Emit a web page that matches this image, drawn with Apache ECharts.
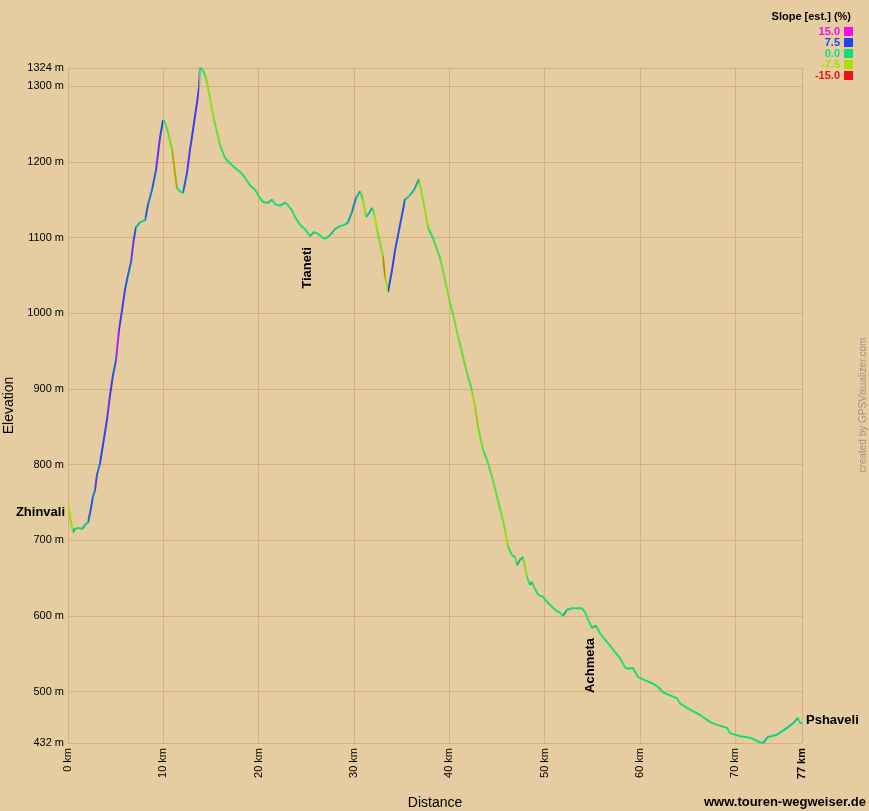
<!DOCTYPE html>
<html><head><meta charset="utf-8">
<script src="https://cdn.jsdelivr.net/npm/echarts@6/dist/echarts.min.js"></script>
<style>html,body{margin:0;padding:0;background:#e5cda1}#c{width:869px;height:811px}</style>
</head><body><div id="c"></div>
<script>
const distanceKm = [0,0.21,0.52,0.73,1.05,1.47,1.78,2.10,2.31,2.62,
2.83,3.04,3.36,3.67,4.09,4.41,4.72,5.04,5.35,5.67,
5.98,6.29,6.61,6.92,7.13,7.55,8.08,8.39,8.81,9.23,
9.65,9.97,10.18,10.49,10.91,11.23,11.44,11.75,12.06,12.48,
12.80,13.11,13.53,13.74,13.85,14.16,14.48,14.90,15.21,15.63,
15.95,16.47,17.00,17.52,18.04,18.57,19.09,19.62,20.14,20.46,
20.98,21.40,21.72,22.24,22.77,22.98,23.18,23.50,23.81,24.34,
24.86,25.39,25.81,26.23,26.75,27.07,27.49,28.01,28.54,29.06,
29.37,29.79,30.21,30.63,30.95,31.16,31.26,31.58,31.89,32.10,
32.42,32.73,33.05,33.26,33.57,33.99,34.31,34.62,35.04,35.35,
35.88,36.30,36.82,37.14,37.45,37.77,38.29,39.03,39.55,40.07,
40.39,40.92,41.44,41.96,42.38,42.70,43.01,43.54,43.96,44.48,
45.01,45.53,45.85,46.16,46.58,46.90,47.11,47.42,47.73,47.94,
48.15,48.47,48.68,48.89,49.31,49.83,50.36,51.09,51.62,51.93,
52.35,52.87,53.92,54.24,54.55,54.97,55.39,55.81,56.13,56.65,
57.39,57.91,58.43,58.75,59.27,59.80,60.53,61.27,61.90,62.42,
63.15,63.89,64.21,65.26,66.30,67.35,68.09,69.14,69.45,70.50,
71.55,72.60,72.91,73.44,74.38,75.43,76.06,76.58,76.79,77.00];
const elevationM = [747,731,710,715,716,715,720,724,736,757,
766,786,802,826,859,892,918,938,978,1004,
1031,1050,1068,1099,1113,1120,1123,1143,1163,1189,
1232,1255,1252,1239,1216,1185,1165,1161,1159,1185,
1216,1242,1278,1298,1324,1321,1311,1284,1262,1239,
1222,1205,1198,1192,1187,1179,1169,1163,1152,1147,
1146,1150,1144,1142,1146,1144,1142,1136,1127,1117,
1111,1102,1107,1105,1099,1099,1103,1111,1115,1117,
1120,1134,1152,1161,1150,1134,1127,1132,1139,1134,
1110,1093,1073,1050,1028,1057,1083,1103,1130,1150,
1156,1163,1177,1156,1136,1113,1099,1073,1044,1013,
999,969,942,916,898,876,850,819,806,784,
757,731,713,691,680,678,667,674,678,665,
651,641,645,638,628,625,617,608,604,600,
608,610,610,605,595,584,587,577,572,564,
552,544,532,530,531,519,515,511,506,499,
495,491,484,476,469,460,456,452,445,441,
439,433,432,440,443,452,458,465,458,459];
const xTickValues = [0,10,20,30,40,50,60,70,77];
const yTickValues = [432,500,600,700,800,900,1000,1100,1200,1300,1324];
const slopeLegendValues = [15, 7.5, 0, -7.5, -15];
const slopeLegendLabels = ['15.0','7.5','0.0','-7.5','-15.0'];
const slopeColors = ['#ee11ee','#2244ee','#11dd77','#aadd00','#ee1111'];
const waypointNames = ['Zhinvali','Tianeti','Achmeta','Pshaveli'];
const waypointKm = [0, 25.07, 54.76, 77];
const waypointElev = [737, 1106, 590, 459];

const FONT = '"Liberation Sans", Arial, Helvetica, sans-serif';

function hexToRgb(h){return [parseInt(h.substr(1,2),16),parseInt(h.substr(3,2),16),parseInt(h.substr(5,2),16)];}
function slopeColor(s){
  if (s > 20 || s < -20) return '#999999';
  if (s >= slopeLegendValues[0]) return slopeColors[0];
  if (s <= slopeLegendValues[4]) return slopeColors[4];
  for (let i=0;i<4;i++){
    const a = slopeLegendValues[i], b = slopeLegendValues[i+1];
    if (s <= a && s >= b){
      let t = (a - s)/(a - b);
      if (i === 2) t = Math.pow(t, 1.6);
      const ca = hexToRgb(slopeColors[i]), cb = hexToRgb(slopeColors[i+1]);
      const c = ca.map((v,k)=>Math.round(v + (cb[k]-v)*t));
      return 'rgb(' + c.join(',') + ')';
    }
  }
  return slopeColors[2];
}

const pieces = [];
for (let i=0;i<distanceKm.length-1;i++){
  const dk = distanceKm[i+1]-distanceKm[i];
  const slope = (elevationM[i+1]-elevationM[i])/(dk*1000)*100;
  const p = {gte: distanceKm[i], color: slopeColor(slope)};
  if (i === distanceKm.length-2) p.lte = distanceKm[i+1]; else p.lt = distanceKm[i+1];
  pieces.push(p);
}

const lineData = distanceKm.map((d,i)=>[d, elevationM[i]]);

const chart = echarts.init(document.getElementById('c'), null, {renderer:'canvas'});
const gridColor = '#d9af78';

const legendGraphics = [{
  type:'text', right: 18, top: 11,
  style:{text:'Slope [est.] (%)', font:'bold 11px '+FONT, fill:'#000'}
}];
slopeLegendLabels.forEach((lab,i)=>{
  const y = 26 + i*11;
  legendGraphics.push({type:'text', right: 29, top: y,
    style:{text:lab, font:'bold 11px '+FONT, fill:slopeColors[i]}});
  legendGraphics.push({type:'rect', shape:{x:844, y:y+1, width:9, height:9},
    style:{fill:slopeColors[i]}});
});
legendGraphics.push({type:'text', x: 863, y: 405, rotation: Math.PI/2,
  style:{text:'created by GPSVisualizer.com', font:'10px '+FONT, fill:'#a09480', align:'center', verticalAlign:'middle'}});
legendGraphics.push({type:'text', right: 3, top: 796,
  style:{text:'www.touren-wegweiser.de', font:'bold 13px '+FONT, fill:'#000'}});

chart.setOption({
  backgroundColor:'#e5cda1',
  animation:false,
  grid:{left:68, right:67, top:68, bottom:68, containLabel:false, outerBoundsMode:'none'},
  xAxis:{
    type:'value', min:0, max:77,
    name:'Distance', nameLocation:'middle', nameGap:53,
    nameTextStyle:{fontFamily:FONT, fontSize:14, color:'#000'},
    axisLine:{show:false},
    axisTick:{show:false, customValues:xTickValues},
    axisLabel:{customValues:xTickValues, rotate:90, margin:5, fontFamily:FONT, fontSize:11, color:'#000',
      formatter: v => v===77 ? '{b|77 km}' : v + ' km',
      rich:{b:{fontWeight:'bold', fontFamily:FONT, fontSize:11, color:'#000'}}},
    splitLine:{show:true, lineStyle:{color:gridColor, width:1}}
  },
  yAxis:{
    type:'value', min:432, max:1324,
    name:'Elevation', nameLocation:'middle', nameGap:50, nameRotate:90,
    nameTextStyle:{fontFamily:FONT, fontSize:14, color:'#000'},
    axisLine:{show:false},
    axisTick:{show:false, customValues:yTickValues},
    axisLabel:{customValues:yTickValues, margin:4, fontFamily:FONT, fontSize:11, color:'#000',
      formatter: v => v + ' m'},
    splitLine:{show:true, lineStyle:{color:gridColor, width:1}}
  },
  visualMap:{type:'piecewise', show:false, dimension:0, seriesIndex:0, pieces:pieces},
  series:[{
    type:'line', data:lineData, showSymbol:false, symbol:'none', smooth:false,
    lineStyle:{width:2}, z:5
  }],
  graphic: legendGraphics
});

// waypoint labels placed through the chart's own scales
const wpGraphics = [];
const offsets = [
  {dx:-3, dy:0, rot:0, align:'right'},
  {dx:0, dy:35, rot:Math.PI/2, align:'center'},
  {dx:0, dy:42, rot:Math.PI/2, align:'center'},
  {dx:4, dy:-2, rot:0, align:'left'}
];
waypointNames.forEach((n,i)=>{
  const p = chart.convertToPixel({gridIndex:0}, [waypointKm[i], waypointElev[i]]);
  const o = offsets[i];
  wpGraphics.push({type:'text', x:p[0]+o.dx, y:p[1]+o.dy, rotation:o.rot, z:10,
    style:{text:n, font:'bold 13px '+FONT, fill:'#000', align:o.align, verticalAlign:'middle'}});
});
chart.setOption({graphic: legendGraphics.concat(wpGraphics)});
</script></body></html>
